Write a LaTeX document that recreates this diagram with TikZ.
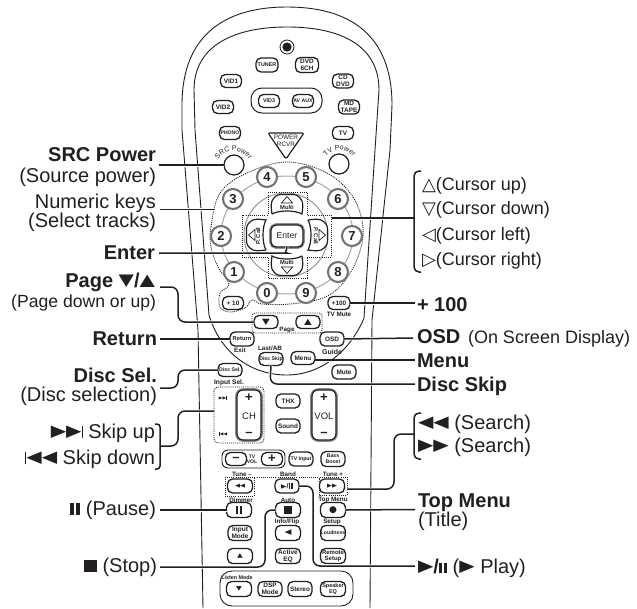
\documentclass[tikz,border=0pt]{standalone}
\usepackage{fontspec}
\usepackage{graphicx}
\setmainfont{Liberation Sans}
\newfontfamily\symf{DejaVu Sans}
\usetikzlibrary{decorations.text}
\definecolor{ink}{HTML}{231F20}
\newcommand{\gl}[1]{{\symf\raisebox{.09em}{\scalebox{1}[.82]{#1}}}}
\newcommand{\glo}[1]{{\symf #1}}
\newcommand{\pausesym}[2]{\rule{#1}{#2}\kern.55\dimexpr#1\relax\rule{#1}{#2}}
\tikzset{
  x=1pt,y=-1pt,
  every node/.style={text=ink,inner sep=0pt,outer sep=0pt},
  big/.style={font=\fontsize{20}{20}\selectfont},
  midf/.style={font=\fontsize{18}{18}\selectfont},
  lr/.style={anchor=base east},
  ll/.style={anchor=base west},
  outline/.style={draw=ink,line width=.9pt},
  lead/.style={draw=ink,line width=1.5pt,rounded corners=7pt,preaction={draw=white,line width=3pt}},
  brace/.style={draw=ink,line width=1.5pt,rounded corners=5pt},
  dots/.style={draw=ink,line width=.9pt,dash pattern=on 1pt off 1.1pt},
  btn/.style={draw=ink,fill=white,line width=1.3pt,rounded corners=5pt,minimum width=24pt,minimum height=14pt,align=center,font=\bfseries\fontsize{6.4}{6.6}\selectfont},
  halo/.style={preaction={draw=black!45,line width=3.6pt}},
  numkey/.style={circle,draw=black!55,fill=white,line width=2.1pt,minimum size=20pt,font=\bfseries\fontsize{13}{13}\selectfont},
  smallcap/.style={font=\bfseries\fontsize{6.3}{6.3}\selectfont},
  pow/.style={draw=ink,fill=white,line width=1.2pt,circle,minimum size=20pt},
  curvecap/.style={decorate,decoration={text along path,text align=center,text color=ink,text={|\fontsize{7}{7}\selectfont|#1}}},
}
\begin{document}
\begin{tikzpicture}
\useasboundingbox (0,0) rectangle (637,608);
\fill[white] (0,0) rectangle (637,608);
% body
\draw[outline] (203,608) -- (198,330) -- (182,130) -- (182,105) .. controls (182,35) and (225,7) .. (287,7) .. controls (350,7) and (392,35) .. (392,105) -- (390,150) -- (372,320) -- (370,608);
\draw[outline] (209,315) -- (195,130) -- (194,90) .. controls (194,45) and (235,27) .. (287,27) .. controls (340,27) and (379,45) .. (379,90) -- (375,150) -- (364,318) .. controls (350,352) and (320,375) .. (287,375) .. controls (250,375) and (220,352) .. (209,315);
% top
\draw[ink,line width=.8pt] (287,47) circle[radius=7pt];
\fill[ink] (287,47) circle[radius=4.6pt];
\node[btn,minimum width=22pt,minimum height=14pt,font=\bfseries\fontsize{5.4}{5.4}\selectfont] (tuner) at (267,65) {TUNER};
\node[btn,minimum width=23pt,minimum height=15pt] (dvd) at (307,65) {DVD\\6CH};
\node[btn,minimum width=21pt,minimum height=13pt] (vid1) at (231,81) {VID1};
\node[btn,minimum width=21pt,minimum height=14pt] (cd) at (343,81) {CD\\DVD};
\node[btn,minimum width=21pt,minimum height=13pt] (vid2) at (223,107) {VID2};
\node[btn,minimum width=21pt,minimum height=14pt] (md) at (349,107) {MD\\TAPE};
\draw[ink,line width=1pt,rounded corners=11pt] (251,88) rectangle (322,113);
\node[btn,minimum width=21pt,minimum height=13pt,font=\bfseries\fontsize{5.4}{5.4}\selectfont] (vid3) at (269,101) {VID3};
\node[btn,minimum width=21pt,minimum height=13pt,font=\bfseries\fontsize{5.2}{5.2}\selectfont] (avaux) at (303,101) {AV AUX};
\node[btn,minimum width=21pt,minimum height=13pt,font=\bfseries\fontsize{5.1}{5.1}\selectfont] (phono) at (230,133) {PHONO};
\node[btn,minimum width=21pt,minimum height=13pt] (tv) at (343,133) {TV};
\draw[ink,line width=1.2pt,rounded corners=2pt,fill=white] (268,133) -- (304,133) -- (286,159) -- cycle;
\node[font=\fontsize{6.4}{6.4}\selectfont] (powertxt) at (286,137.5) {POWER};
\node[font=\fontsize{6.4}{6.4}\selectfont] (rcvrtxt) at (286,144.5) {RCVR};
\node[pow] (srcpower) at (234,165) {};
\node[pow] (tvpower) at (339,164) {};
\path[curvecap={SRC Power}] (217,163) .. controls (220,147) and (247,147) .. (250,163);
\path[curvecap={TV Power}] (324,162) .. controls (327,146) and (352,146) .. (355,162);
% keypad
\draw[black!35,line width=1pt] (287,235) ellipse[x radius=66pt,y radius=59pt];
\draw[black!40,line width=1pt] (286,235) circle[radius=42pt];
\draw[dots] plot[smooth cycle,tension=.6] coordinates {(211,247) (211,227) (220,193) (247,173) (287,162) (327,173) (353,197) (363,228) (358,257) (343,283) (323,298) (290,304) (262,304) (252,300) (245,308) (230,312) (220,307) (220,293) (229,284) (218,267)};
\draw[dots] (268,192) -- (307,192) -- (307,215) -- (331,215) -- (331,257) -- (307,257) -- (307,278) -- (268,278) -- (268,257) -- (242,257) -- (242,215) -- (268,215) -- cycle;
\foreach \r in {0,90,180,270}{
\begin{scope}[shift={(287,235)},rotate=\r]
\draw[ink,line width=1.2pt,fill=white] (-15,-21) .. controls (-16,-28) and (-16,-31) .. (-15,-34) .. controls (-13,-38) and (-10,-40.5) .. (-6,-40.5) -- (6,-40.5) .. controls (10,-40.5) and (13,-38) .. (15,-34) .. controls (16,-31) and (16,-28) .. (15,-21) .. controls (8,-25) and (-8,-25) .. (-15,-21);
\draw[ink,line width=.7pt] (-5.5,-32) -- (5.5,-32) -- (0,-38.5) -- cycle;
\end{scope}}
\node[smallcap,font=\bfseries\fontsize{5.8}{5.8}\selectfont] (multiup) at (287,207) {Multi};
\node[smallcap,font=\bfseries\fontsize{5.8}{5.8}\selectfont] (multidn) at (287,262) {Multi};
\node[smallcap,font=\bfseries\fontsize{5.8}{5.8}\selectfont,rotate=90] (pcalll) at (258,236) {P. Call};
\node[smallcap,font=\bfseries\fontsize{5.8}{5.8}\selectfont,rotate=-90] (pcallr) at (316,236) {P. Call};
\node[btn,halo,minimum width=32pt,minimum height=22pt,rounded corners=5pt,font=\fontsize{8.6}{8.6}\selectfont] (enter) at (287,236) {Enter};
\node[numkey] (k4) at (267,177) {4};
\node[numkey] (k5) at (306,177) {5};
\node[numkey] (k3) at (233,199) {3};
\node[numkey] (k6) at (338,199) {6};
\node[numkey] (k2) at (221,236) {2};
\node[numkey] (k7) at (352,236) {7};
\node[numkey] (k1) at (234,272) {1};
\node[numkey] (k8) at (338,272) {8};
\node[numkey] (k0) at (267,293) {0};
\node[numkey] (k9) at (306,293) {9};
\node[btn,minimum width=21pt,minimum height=13pt] (p10) at (233,303) {+ 10};
\node[btn,minimum width=22pt,minimum height=13pt] (p100) at (339,303) {+100};
\node[smallcap] (tvmute) at (339,314) {TV Mute};
% page
\draw[dots,rounded corners=3pt] (252,313) rectangle (322,333);
\node[btn,minimum height=13pt] (pgdn) at (266,322) {\fontsize{10}{10}\selectfont\gl{▼}};
\node[btn,minimum height=13pt] (pgup) at (308,322) {\fontsize{10}{10}\selectfont\gl{▲}};
\node[smallcap] (pagecap) at (287,330) {Page};
% middle
\node[btn,font=\bfseries\fontsize{5.8}{5.8}\selectfont] (return) at (242,339) {Return};
\node[smallcap] (exitcap) at (240,350) {Exit};
\node[btn] (osd) at (332,339) {OSD};
\node[smallcap,font=\bfseries\fontsize{7}{7}\selectfont] (guidecap) at (332,352) {Guide};
\node[smallcap] (lastab) at (270,348) {Last/AB};
\node[btn,minimum height=13pt,font=\bfseries\fontsize{5.2}{5.2}\selectfont] (discskip) at (271,359) {Disc Skip};
\node[btn,minimum height=13pt] (menu) at (303,358) {Menu};
\node[btn] (mute) at (344,372) {Mute};
\node[btn,minimum height=13pt,font=\bfseries\fontsize{5.2}{5.2}\selectfont] (discsel) at (230,370) {Disc Sel.};
\node[smallcap,font=\bfseries\fontsize{6.6}{6.6}\selectfont] (inputsel) at (229,383) {Input Sel.};
\draw[dots,rounded corners=4pt] (214,387) rectangle (264,443);
\node[font=\fontsize{5}{5}\selectfont] (ic1) at (223,398) {\gl{▶▶}\rule{.7pt}{4pt}};
\node[font=\fontsize{5}{5}\selectfont] (ic2) at (223,434) {\rule{.7pt}{4pt}\gl{◀◀}};
\node[btn,halo,line width=1.2pt,minimum width=24pt,minimum height=50pt,rounded corners=6pt] (ch) at (249,415) {};
\node[btn,halo,line width=1.2pt,minimum width=24pt,minimum height=50pt,rounded corners=6pt] (vol) at (324,415) {};
\node[font=\bfseries\fontsize{13}{13}\selectfont] (chp) at (249,398) {+};
\node[font=\fontsize{9.5}{9.5}\selectfont] (cht) at (249,416) {CH};
\node[font=\bfseries\fontsize{13}{13}\selectfont] (chm) at (249,434) {–};
\node[font=\bfseries\fontsize{13}{13}\selectfont] (volp) at (324,398) {+};
\node[font=\fontsize{9.5}{9.5}\selectfont] (volt) at (324,416) {VOL};
\node[font=\bfseries\fontsize{13}{13}\selectfont] (volm) at (324,434) {–};
\node[btn] (thx) at (288,401) {THX};
\node[btn] (sound) at (288,426) {Sound};
\draw[ink,line width=.9pt,rounded corners=6pt] (222,450) rectangle (285,468);
\node[btn,minimum width=21pt,minimum height=13pt,font=\bfseries\fontsize{13}{13}\selectfont] (tvm) at (236,459) {–};
\node[btn,minimum width=21pt,minimum height=13pt,font=\bfseries\fontsize{13}{13}\selectfont] (tvp) at (272,459) {+};
\node[smallcap,align=center,font=\bfseries\fontsize{5}{5.5}\selectfont] (tvvol) at (252,459.5) {TV\\VOL};
\node[btn,font=\bfseries\fontsize{5.2}{5.2}\selectfont] (tvinput) at (301,459) {TV Input};
\node[btn,font=\bfseries\fontsize{5.2}{5.8}\selectfont,minimum height=15pt] (bass) at (333,459) {Bass\\Boost};
% transport
\draw[dots] (225,477) -- (347,477) -- (347,495) -- (319,495) -- (319,478);
\draw[dots] (225,477) -- (225,496) -- (254,496) -- (254,477);
\node[smallcap] (tunem) at (242,474) {Tune –};
\node[smallcap] (band) at (288,474) {Band};
\node[smallcap] (tunep) at (333,474) {Tune +};
\node[btn,minimum width=25pt] (rew) at (240,486) {\fontsize{6.5}{6.5}\selectfont\gl{◀◀}};
\node[btn] (play) at (287,486) {\fontsize{7}{7}\selectfont\gl{▶}/\pausesym{1.7pt}{6pt}};
\node[btn,minimum width=25pt] (ff) at (332,486) {\fontsize{6.5}{6.5}\selectfont\gl{▶▶}};
\node[smallcap] (dimmer) at (241,500) {Dimmer};
\node[smallcap] (auto) at (288,500) {Auto};
\node[smallcap] (topcap) at (333,500) {Top Menu};
\node[btn,minimum width=25pt,minimum height=15pt] (pause) at (239,510) {\pausesym{2.4pt}{8pt}};
\node[btn,minimum width=25pt,minimum height=15pt] (stop) at (288,510) {\rule{8pt}{8pt}};
\node[btn,minimum width=25pt,minimum height=15pt] (topmenu) at (333,510) {\fontsize{9}{9}\selectfont\symf ●};
\node[smallcap] (infoflip) at (287,522) {Info/Flip};
\node[smallcap] (setup) at (332,522) {Setup};
\node[btn,minimum height=15pt,font=\bfseries\fontsize{6.5}{7}\selectfont] (inputmode) at (240,533) {Input\\Mode};
\node[btn,minimum width=25pt,minimum height=15pt] (flipbtn) at (288,533) {\fontsize{9}{9}\selectfont\gl{◀}};
\node[btn,minimum height=15pt,font=\bfseries\fontsize{5.2}{5.2}\selectfont] (loud) at (333,533) {Loudness};
\node[btn,minimum width=25pt,minimum height=15pt] (upbtn) at (240,556) {\fontsize{7.5}{7.5}\selectfont\gl{▲}};
\node[btn,minimum width=25pt,minimum height=15pt,font=\bfseries\fontsize{6.5}{7}\selectfont] (active) at (288,556) {Active\\EQ};
\node[btn,minimum width=25pt,minimum height=15pt,font=\bfseries\fontsize{6}{6.5}\selectfont] (remote) at (333,556) {Remote\\Setup};
\draw[ink,line width=.9pt,rounded corners=12pt] (220,571) rectangle (353,606);
\node[smallcap,font=\bfseries\fontsize{5.4}{5.4}\selectfont] (listen) at (237,578) {Listen Mode};
\node[btn,minimum width=25pt,minimum height=15pt] (dnbtn) at (239,589) {\fontsize{7.5}{7.5}\selectfont\gl{▼}};
\node[btn,minimum width=24pt,minimum height=15pt,font=\bfseries\fontsize{6.5}{7}\selectfont] (dsp) at (270,589) {DSP\\Mode};
\node[btn,minimum width=24pt,minimum height=15pt] (stereo) at (300,589) {Stereo};
\node[btn,minimum width=25pt,minimum height=15pt,font=\bfseries\fontsize{5.5}{6.5}\selectfont] (speaker) at (333,589) {Speaker\\EQ};
% left labels
\node[big,lr] (lsrc) at (156,161) {\bfseries SRC Power};
\node[big,lr] (lsrc2) at (156,182) {(Source power)};
\node[big,lr] (lnum) at (156,208) {Numeric keys};
\node[big,lr] (lnum2) at (156,227) {(Select tracks)};
\node[big,lr] (lent) at (155,259) {\bfseries Enter};
\node[big,lr] (lpage) at (155,287) {\bfseries Page \gl{▼}/\gl{▲}};
\node[font=\fontsize{17.6}{18}\selectfont,lr] (lpage2) at (156,307) {(Page down or up)};
\node[big,lr] (lret) at (157,345) {\bfseries Return};
\node[big,lr] (ldisc) at (157,382) {\bfseries Disc Sel.};
\node[big,lr] (ldisc2) at (157,401) {(Disc selection)};
\node[big,lr] (lup) at (155,438) {\gl{▶▶}\rule{1.2pt}{12pt} Skip up};
\node[big,lr] (ldn) at (155,464) {\rule{1.2pt}{12pt}\gl{◀◀} Skip down};
\node[big,lr] (lpause) at (156,515) {\pausesym{4pt}{12pt} (Pause)};
\node[big,lr] (lstop) at (157,572) {\rule{12.5pt}{12.5pt} (Stop)};
% right labels
\node[midf,ll] (rcu) at (422,190) {\glo{△}(Cursor up)};
\node[midf,ll] (rcd) at (422,214) {\glo{▽}(Cursor down)};
\node[midf,ll] (rcl) at (422,240) {\glo{◁}(Cursor left)};
\node[midf,ll] (rcr) at (422,265) {\glo{▷}(Cursor right)};
\node[big,ll] (r100) at (417,311) {\bfseries + 100};
\node[ll] (rosd) at (417,343) {\fontsize{20}{20}\selectfont\bfseries OSD};
\node[midf,ll] (rosd2) at (468,343) {(On Screen Display)};
\node[big,ll] (rmenu) at (417,367) {\bfseries Menu};
\node[big,ll] (rskip) at (417,391) {\bfseries Disc Skip};
\node[big,ll] (rs1) at (418,429) {\gl{◀◀} (Search)};
\node[big,ll] (rs2) at (418,452) {\gl{▶▶} (Search)};
\node[big,ll] (rtop) at (418,507) {\bfseries Top Menu};
\node[big,ll] (rtitle) at (418,526) {(Title)};
\node[big,ll] (rplay) at (418,573) {\bfseries\gl{▶}/\pausesym{3.2pt}{10pt}\mdseries\ (\gl{▶} Play)};
% connector ends
\coordinate (a1) at (159,165);
\coordinate (a2) at (160,209.5);
\coordinate (a2e) at (215,209.5);
\coordinate (a3) at (159,253);
\coordinate (a4) at (160,287);
\coordinate (a5) at (160,339);
\coordinate (a6) at (160,388);
\coordinate (a7) at (160,446);
\coordinate (a7e) at (214,411);
\coordinate (a8) at (160,510);
\coordinate (a9) at (160,567);
\coordinate (b1) at (414,218);
\coordinate (b1s) at (332,218);
\coordinate (b2) at (415,303);
\coordinate (b3) at (413,338);
\coordinate (b4) at (415,360);
\coordinate (b5) at (415,384);
\coordinate (b6) at (414,434);
\coordinate (b6s) at (347,489);
\coordinate (b7) at (415,509.5);
\coordinate (b8) at (415,566);
% connectors
\draw[lead] (a1) -- (srcpower);
\draw[lead] (a2) -- (a2e);
\draw[lead] (a3) -- (280,253) to[out=0,in=-90] (enter.south);
\draw[lead] (a4) -- (178,287) -- (178,322) -- (pgdn.west);
\draw[lead] (a5) -- (return.west);
\draw[lead] (a6) -- (178,388) -- (178,370) -- (discsel.west);
\draw[lead] (a7) -- (178,446) -- (178,411) -- (a7e);
\draw[lead] (a8) -- (pause.west);
\draw[lead] (a9) -- (265,567) -- (265,510) -- (stop.west);
\draw[lead] (b1s) -- (b1);
\draw[lead] (p100.east) -- (b2);
\draw[lead] (osd.east) -- (b3);
\draw[lead] (menu.east |- b4) -- (b4);
\draw[lead] (discskip.south) -- (270,384) -- (b5);
\draw[lead] (b6s) -- (394,489) -- (394,434) -- (b6);
\draw[lead] (topmenu.east) -- (b7);
\draw[lead] (play.east) -- (313,486) -- (313,566) -- (b8);
% braces
\draw[brace] (421,171) -- (414,171) -- (414,272) -- (421,272);
\draw[brace] (421,413) -- (414,413) -- (414,459) -- (421,459);
\draw[brace,rounded corners=3pt] (155,424) -- (160,424) -- (160,469) -- (155,469);
\end{tikzpicture}
\end{document}
